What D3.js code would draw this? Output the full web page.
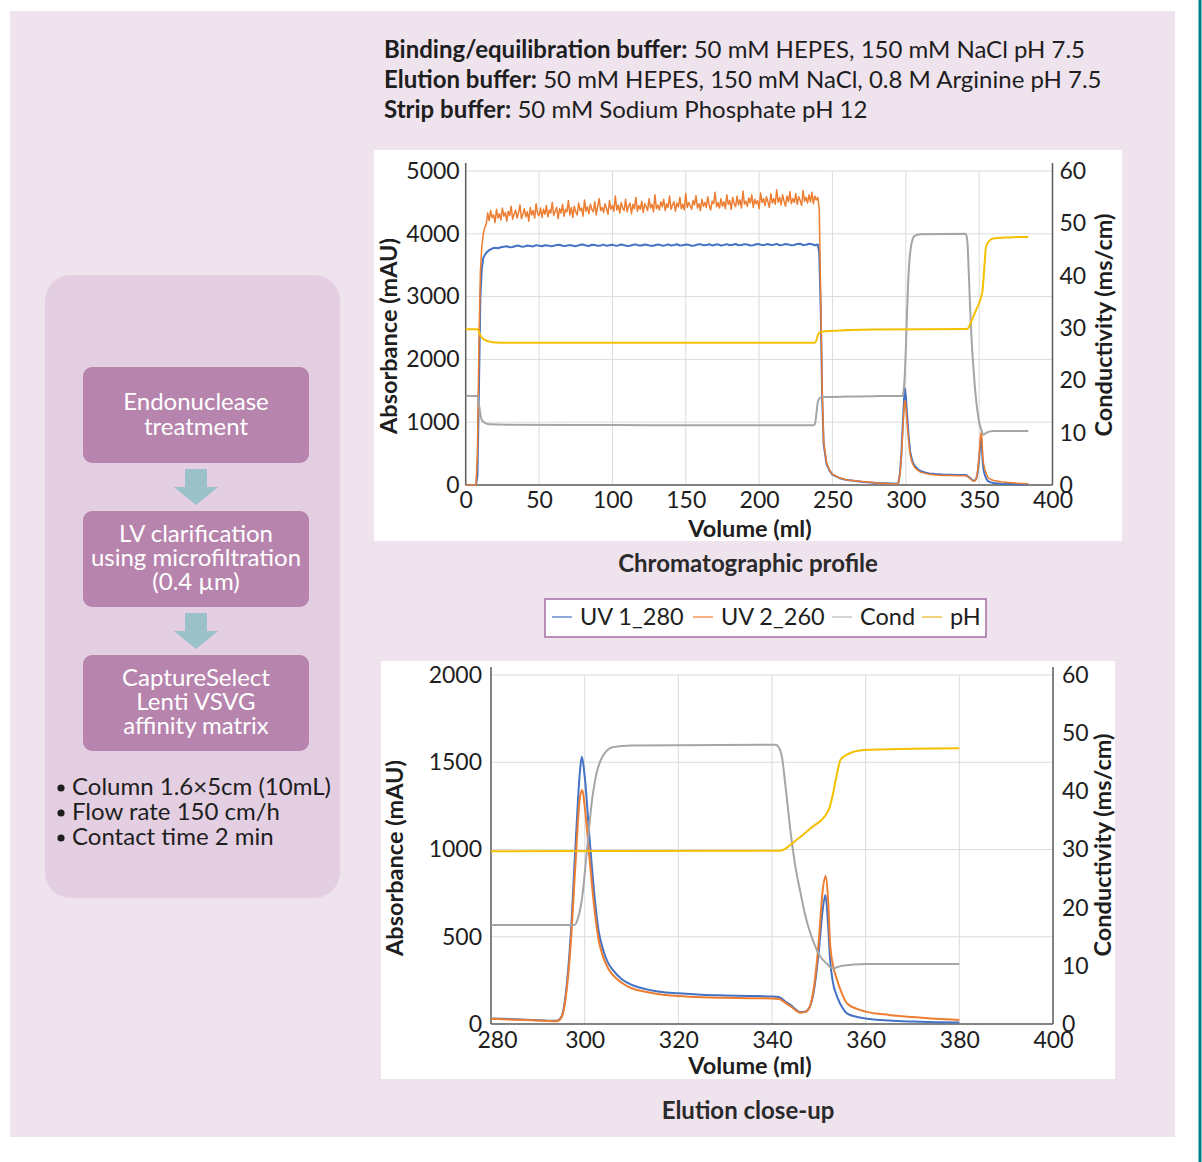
<!DOCTYPE html>
<html><head><meta charset="utf-8">
<script src="https://cdn.jsdelivr.net/npm/d3@7"></script>
<style>body{margin:0;background:#fff}svg{display:block;font-family:Lato,"Open Sans",sans-serif}</style>
</head><body><svg id="c" width="1202" height="1162"></svg>
<script>
// ---------- DATA ----------
const headerLines = [
  ["Binding/equilibration buffer:", " 50 mM HEPES, 150 mM NaCl pH 7.5"],
  ["Elution buffer:", " 50 mM HEPES, 150 mM NaCl, 0.8 M Arginine pH 7.5"],
  ["Strip buffer:", " 50 mM Sodium Phosphate pH 12"]
];
const steps = [
  ["Endonuclease", "treatment"],
  ["LV clarification", "using microfiltration", "(0.4 \u00b5m)"],
  ["CaptureSelect", "Lenti VSVG", "affinity matrix"]
];
const bullets = ["Column 1.6\u00d75cm (10mL)", "Flow rate 150 cm/h", "Contact time 2 min"];
const seriesNames = ["UV 1_280", "UV 2_260", "Cond", "pH"];

const topXTicks = [0, 50, 100, 150, 200, 250, 300, 350, 400];
const topYTicks = [0, 1000, 2000, 3000, 4000, 5000];
const botXTicks = [280, 300, 320, 340, 360, 380, 400];
const botYTicks = [0, 500, 1000, 1500, 2000];
const condTicks = [0, 10, 20, 30, 40, 50, 60];

// UV 1_280 (mAU) – loading / wash part
const uv1Load = [[0,0],[7,0],[8,150],[9,1500],[10,3000],[11,3450],[12,3620],[14,3700],
 [16,3740],[18,3765],[20,3778],[22,3770],[24,3786],[26,3795],[28,3802],[30,3785],[32,3790],[34,3806],[36,3812],
 [38,3795],[40,3798],[42,3814],[44,3806],[46,3799],[48,3820],[50,3810],[52,3801],[54,3818],
 [56,3815],[58,3800],[60,3808],[62,3821],[64,3826],[66,3809],[68,3804],[70,3819],[72,3818],[74,3803],[76,3811],
 [78,3824],[80,3829],[82,3812],[84,3806],[86,3825],[88,3822],[90,3808],[92,3813],[94,3827],
 [96,3808],[98,3819],[100,3827],[102,3811],[104,3815],[106,3830],[108,3820],[110,3806],[112,3809],[114,3824],
 [116,3831],[118,3812],[120,3814],[122,3829],[124,3823],[126,3808],[128,3810],[130,3826],
 [132,3828],[134,3811],[136,3819],[138,3832],[140,3812],[142,3821],[144,3833],[146,3814],[148,3817],[150,3830],
 [152,3824],[154,3810],[156,3813],[158,3831],[160,3835],[162,3816],[164,3820],[166,3834],
 [168,3815],[170,3827],[172,3832],[174,3814],[176,3822],[178,3836],[180,3817],[182,3825],[184,3838],[186,3818],
 [188,3821],[190,3835],[192,3829],[194,3814],[196,3818],[198,3833],[200,3836],[202,3819],
 [204,3825],[206,3838],[208,3820],[210,3826],[212,3840],[214,3818],[216,3823],[218,3837],[220,3831],[222,3816],
 [224,3822],[226,3839],[228,3842],[230,3820],[232,3826],[234,3841],[236,3834],[238,3818],
 [240,3828],[241,3700],[242,2800],[243,1400],[244,650],[246,330],[248,230],[250,165],[255,108],
 [260,78],[270,52],[278,36]];
// UV 2_260 (mAU) – loading / wash part (noisy plateau, 1 ml readings)
const uv2Load = [[0,0],[7,0],[8,500],[9,2200],[10,3400],[11,3800],[12,4000],[13,4100],
 [14,4150],[15,4330],[16,4210],[17,4370],[18,4260],[19,4300],[20,4180],[21,4390],[22,4250],[23,4320],
 [24,4220],[25,4410],[26,4280],[27,4340],[28,4200],[29,4360],[30,4290],[31,4440],[32,4230],[33,4310],
 [34,4380],[35,4250],[36,4330],[37,4460],[38,4240],[39,4310],[40,4400],[41,4270],[42,4350],[43,4200],
 [44,4420],[45,4300],[46,4370],[47,4250],[48,4480],[49,4320],[50,4290],[51,4410],[52,4260],[53,4390],
 [54,4310],[55,4450],[56,4270],[57,4380],[58,4330],[59,4500],[60,4290],[61,4360],[62,4420],[63,4240],
 [64,4400],[65,4330],[66,4470],[67,4280],[68,4390],[69,4350],[70,4530],[71,4300],[72,4420],[73,4260],
 [74,4440],[75,4350],[76,4300],[77,4490],[78,4370],[79,4410],[80,4280],[81,4540],[82,4360],[83,4430],
 [84,4320],[85,4470],[86,4390],[87,4350],[88,4510],[89,4300],[90,4440],[91,4560],[92,4370],[93,4420],
 [94,4340],[95,4480],[96,4400],[97,4310],[98,4530],[99,4390],[100,4450],[101,4360],[102,4600],[103,4380],
 [104,4460],[105,4330],[106,4500],[107,4410],[108,4370],[109,4550],[110,4350],[111,4440],[112,4490],[113,4320],
 [114,4470],[115,4400],[116,4580],[117,4360],[118,4450],[119,4390],[120,4520],[121,4340],[122,4480],[123,4430],
 [124,4370],[125,4560],[126,4410],[127,4470],[128,4350],[129,4620],[130,4400],[131,4460],[132,4380],[133,4510],
 [134,4430],[135,4550],[136,4370],[137,4480],[138,4420],[139,4600],[140,4390],[141,4460],[142,4510],[143,4360],
 [144,4490],[145,4430],[146,4580],[147,4400],[148,4470],[149,4380],[150,4640],[151,4420],[152,4500],[153,4450],
 [154,4390],[155,4530],[156,4460],[157,4610],[158,4410],[159,4480],[160,4370],[161,4550],[162,4440],[163,4500],
 [164,4420],[165,4590],[166,4450],[167,4380],[168,4520],[169,4480],[170,4660],[171,4430],[172,4500],[173,4410],
 [174,4560],[175,4440],[176,4510],[177,4400],[178,4620],[179,4470],[180,4530],[181,4390],[182,4580],[183,4480],
 [184,4430],[185,4600],[186,4460],[187,4540],[188,4410],[189,4680],[190,4470],[191,4520],[192,4440],[193,4570],
 [194,4490],[195,4620],[196,4420],[197,4550],[198,4480],[199,4530],[200,4400],[201,4650],[202,4500],[203,4560],
 [204,4450],[205,4590],[206,4510],[207,4420],[208,4640],[209,4490],[210,4560],[211,4470],[212,4700],[213,4500],
 [214,4580],[215,4460],[216,4620],[217,4520],[218,4440],[219,4600],[220,4510],[221,4670],[222,4480],[223,4560],
 [224,4500],[225,4640],[226,4470],[227,4590],[228,4530],[229,4450],[230,4690],[231,4520],[232,4580],[233,4490],
 [234,4620],[235,4510],[236,4660],[237,4480],[238,4600],[239,4540],[240,4580],
 [241,4400],[242,3000],[243,1500],[244,700],[246,350],[248,240],[250,170],[255,110],
 [260,80],[270,55],[278,38]];
// Elution / strip part (280 – 383.5 ml)
const uv1Elu = [[280,32],[285,27],[290,22],[294,18],[295,40],[296,180],[297,500],[298,1000],[299,1450],
 [299.4,1532],[300,1420],[301,1080],[302,760],[303,530],[304,420],[305,350],[306,310],[308,255],[310,225],
 [313,200],[316,185],[320,176],[325,168],[330,164],[335,161],[340,158],[341.5,155],[343,125],[344,108],
 [345,85],[346,68],[347,70],[348,95],[349,200],[350,420],[350.8,650],[351.4,739],[352,560],[352.4,370],
 [353,240],[353.9,157],[355,95],[356,61],[358,42],[360,32],[365,20],[370,14],[375,10],[380,8],[383.5,6]];
const uv2Elu = [[280,30],[285,25],[290,20],[294,16],[295,35],[296,160],[297,450],[298,900],[299,1300],
 [299.5,1341],[300,1250],[301,960],[302,680],[303,480],[304,380],[305,320],[306,281],[308,235],[310,205],
 [313,185],[316,170],[320,160],[325,153],[330,150],[335,148],[340,146],[341.5,143],[343,118],[344,100],
 [345,80],[346,65],[347,68],[348,95],[349,220],[350,480],[350.8,760],[351.5,848],[352,700],[352.4,462],
 [353,340],[353.9,252],[355,170],[356,119],[358,88],[360,71],[365,52],[370,40],[375,30],[380,23],[383.5,20]];
// Conductivity (ms/cm)
const condLoad = [[0,17.06],[8,17.0],[9,15.5],[10,13.5],[11,12.4],[13,11.9],[16,11.6],[30,11.5],
 [100,11.45],[200,11.4],[237,11.4],[238,11.6],[239,13.5],[240,15.8],[241,16.5],[243,16.8],[260,16.9],[278,16.95]];
const condElu = [[280,17.0],[297.8,17.0],[298.5,18],[299.5,22],[300.5,30],[301.5,38],[302.5,43],[303.5,45.5],
 [304.5,46.8],[306,47.6],[310,47.9],[340.7,48.0],[341.5,47.5],[342.1,46],[343,40],[344,32.8],[345,27],
 [346.1,22.5],[347,19],[348.2,15.6],[349,13.8],[350.3,11.6],[351.7,10.4],[352.8,9.6],[355,10.0],[360,10.3],
 [380,10.3],[383.5,10.3]];
// pH trace, as plotted against the right-hand axis
const phLoad = [[0,29.75],[8,29.75],[9,29.3],[10,28.6],[12,27.9],[15,27.5],[20,27.25],[30,27.2],[238,27.2],
 [239,27.6],[240,28.6],[241.5,29.2],[245,29.4],[278,29.7]];
const phElu = [[280,29.7],[341.8,29.8],[345,31.5],[348,33.5],[352.1,36.8],[353,39.5],[354,43.5],[354.6,45.4],
 [356,46.3],[359.6,47.1],[370,47.3],[380,47.4],[383.5,47.4]];

// ---------- STYLE ----------
const colors = ["#4472c4", "#ed7d31", "#a5a5a5", "#f5c000"];
const legendColors = ["#8eaadb", "#f4b183", "#d4d4d4", "#f2d37c"];
const ink = "#1e1e1e";

const svg = d3.select("#c");
svg.append("rect").attr("x", 10).attr("y", 11).attr("width", 1165).attr("height", 1126).attr("fill", "#efe3ee");
svg.append("rect").attr("x", 1198.5).attr("y", 0).attr("width", 3).attr("height", 1162).attr("fill", "#00808a");

// header
const hdr = svg.append("g");
headerLines.forEach((l, i) => {
  const t = hdr.append("text").attr("x", 384).attr("y", 58 + i * 30).attr("font-size", 24).attr("fill", ink);
  t.append("tspan").attr("font-weight", 700).text(l[0]);
  t.append("tspan").text(l[1]);
});

// left panel
svg.append("rect").attr("x", 45).attr("y", 275).attr("width", 295).attr("height", 623).attr("rx", 26).attr("fill", "#e3cfe1");
const boxY = [367, 511, 655];
steps.forEach((s, i) => {
  svg.append("rect").attr("x", 83).attr("y", boxY[i]).attr("width", 226).attr("height", 96).attr("rx", 9).attr("fill", "#b784ad");
  const n = s.length;
  const baseStart = n === 2 ? boxY[i] + 43 : boxY[i] + 31;
  s.forEach((line, j) => {
    svg.append("text").attr("x", 196).attr("y", baseStart + j * (n === 2 ? 25 : 24))
      .attr("text-anchor", "middle").attr("font-size", 24).attr("fill", "#fff").text(line);
  });
});
[[469, 487, 505], [613, 631, 649]].forEach(a => {
  const cx = 196;
  svg.append("path").attr("fill", "#9bc1c8")
    .attr("d", `M${cx-11},${a[0]}H${cx+11}V${a[1]}H${cx+22}L${cx},${a[2]}L${cx-22},${a[1]}H${cx-11}Z`);
});
bullets.forEach((b, i) => {
  svg.append("circle").attr("cx", 61).attr("cy", 788 + i * 25).attr("r", 3.6).attr("fill", ink);
  svg.append("text").attr("x", 72).attr("y", 795 + i * 25).attr("font-size", 24).attr("fill", ink).text(b);
});

// chart helper
function drawChart(o) {
  const g = svg.append("g");
  g.append("rect").attr("x", o.bg[0]).attr("y", o.bg[1]).attr("width", o.bg[2]).attr("height", o.bg[3]).attr("fill", "#fff");
  const x = d3.scaleLinear().domain(o.xd).range([o.x0, o.x1]);
  const yL = d3.scaleLinear().domain(o.yd).range([o.y0, o.y1]);
  const yR = d3.scaleLinear().domain([0, 60]).range([o.y0, o.y1]);
  // grid
  g.append("g").selectAll("line").data(o.xTicks.slice(1, -1)).join("line")
    .attr("x1", d => x(d)).attr("x2", d => x(d)).attr("y1", o.y1).attr("y2", o.y0)
    .attr("stroke", "#dcdcdc").attr("stroke-width", 1);
  g.append("g").selectAll("line").data(o.yTicks.slice(1)).join("line")
    .attr("x1", o.x0).attr("x2", o.x1).attr("y1", d => yL(d)).attr("y2", d => yL(d))
    .attr("stroke", "#dcdcdc").attr("stroke-width", 1);
  // axes text
  const ax = (sel) => { sel.select(".domain").remove(); sel.selectAll("text").attr("font-size", 23).attr("fill", ink).attr("font-family", "Lato"); };
  g.append("g").attr("transform", `translate(${o.x0},0)`)
    .call(d3.axisLeft(yL).tickValues(o.yTicks).tickSize(0).tickPadding(o.padL).tickFormat(d3.format("d"))).call(ax);
  g.append("g").attr("transform", `translate(${o.x1},0)`)
    .call(d3.axisRight(yR).tickValues(condTicks).tickSize(0).tickPadding(o.padR).tickFormat(d3.format("d"))).call(ax);
  const xa = g.append("g").attr("transform", `translate(0,${o.y0})`)
    .call(d3.axisBottom(x).tickValues(o.xTicks).tickSize(0).tickPadding(o.padB).tickFormat(d3.format("d"))).call(ax);
  xa.selectAll("text").filter(d => d === o.xd[0]).attr("dx", o.firstDx);
  // axis lines
  const axc = "#5a5a5a";
  g.append("line").attr("x1", o.x0).attr("x2", o.x0).attr("y1", o.y1 - 8).attr("y2", o.y0).attr("stroke", axc).attr("stroke-width", 1.5);
  g.append("line").attr("x1", o.x1).attr("x2", o.x1).attr("y1", o.y1 - 8).attr("y2", o.y0).attr("stroke", axc).attr("stroke-width", 1.5);
  g.append("line").attr("x1", o.x0).attr("x2", o.x1).attr("y1", o.y0).attr("y2", o.y0).attr("stroke", axc).attr("stroke-width", 1.5);
  // lines
  const lineUV = d3.line().x(d => x(d[0])).y(d => yL(d[1])).curve(o.uvCurve);
  const lineR = d3.line().x(d => x(d[0])).y(d => yR(d[1])).curve(d3.curveMonotoneX);
  const sets = [[o.uv1, lineUV, 0, o.w], [o.uv2, lineUV, 1, o.wNoise], [o.cond, lineR, 2, o.w], [o.ph, lineR, 3, o.w]];
  sets.forEach(s => {
    g.append("path").attr("d", s[1](s[0])).attr("fill", "none").attr("stroke", colors[s[2]])
      .attr("stroke-width", s[3]).attr("stroke-linejoin", "round");
  });
  // labels
  g.append("text").attr("x", 750).attr("y", o.volY).attr("text-anchor", "middle")
    .attr("font-size", 23.5).attr("font-weight", 700).attr("fill", ink).text("Volume (ml)");
  g.append("text").attr("transform", `translate(${o.absX},${o.absCY}) rotate(-90)`).attr("text-anchor", "middle")
    .attr("font-size", 23.5).attr("font-weight", 700).attr("fill", ink).text("Absorbance (mAU)");
  g.append("text").attr("transform", `translate(${o.condX},${o.condCY}) rotate(-90)`).attr("text-anchor", "middle")
    .attr("font-size", 23.5).attr("font-weight", 700).attr("fill", ink).text("Conductivity (ms/cm)");
  g.append("text").attr("x", 748).attr("y", o.titleY).attr("text-anchor", "middle")
    .attr("font-size", 24).attr("font-weight", 700).attr("fill", "#2a2a2a").text(o.title);
}

drawChart({
  bg: [374, 150, 748, 391], xd: [0, 400], yd: [0, 5000], x0: 465.7, x1: 1052.5, y0: 485, y1: 171,
  xTicks: topXTicks, yTicks: topYTicks, padL: 6, padR: 7, padB: 7, firstDx: 0, uvCurve: d3.curveLinear,
  uv1: uv1Load.concat(uv1Elu), uv2: uv2Load.concat(uv2Elu),
  cond: condLoad.concat(condElu), ph: phLoad.concat(phElu), w: 2, wNoise: 1.5,
  volY: 537, absX: 397, absCY: 336, condX: 1112, condCY: 325,
  title: "Chromatographic profile", titleY: 572
});
drawChart({
  bg: [381, 661, 734, 418], xd: [280, 400], yd: [0, 2000], x0: 491, x1: 1053, y0: 1024, y1: 675,
  xTicks: botXTicks, yTicks: botYTicks, padL: 9, padR: 9, padB: 8, firstDx: 6, uvCurve: d3.curveMonotoneX,
  uv1: uv1Elu.filter(d => d[0] <= 380), uv2: uv2Elu.filter(d => d[0] <= 380),
  cond: condElu.filter(d => d[0] <= 380), ph: phElu.filter(d => d[0] <= 380), w: 2, wNoise: 2,
  volY: 1074, absX: 403, absCY: 858, condX: 1111, condCY: 845,
  title: "Elution close-up", titleY: 1119
});

// legend
const lg = svg.append("g");
lg.append("rect").attr("x", 545).attr("y", 599).attr("width", 441).attr("height", 38)
  .attr("fill", "#fff").attr("stroke", "#a66ca1").attr("stroke-width", 1.5);
const lgX = [552, 693, 832, 922];
seriesNames.forEach((n, i) => {
  lg.append("line").attr("x1", lgX[i]).attr("x2", lgX[i] + 20).attr("y1", 617).attr("y2", 617)
    .attr("stroke", legendColors[i]).attr("stroke-width", 2);
  lg.append("text").attr("x", lgX[i] + 28).attr("y", 625).attr("font-size", 23.5).attr("fill", ink).text(n);
});
</script></body></html>
